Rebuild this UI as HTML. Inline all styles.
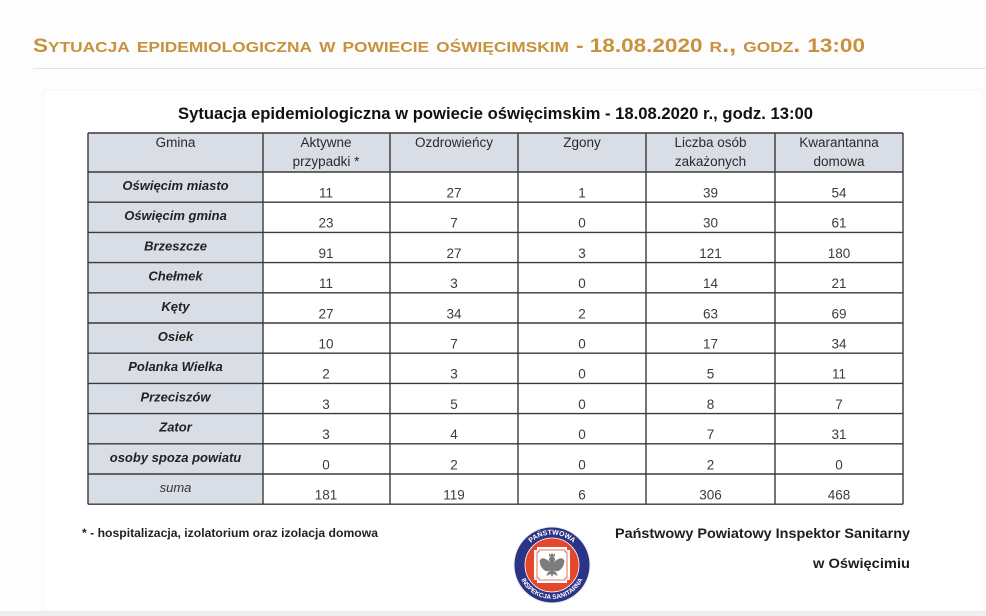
<!DOCTYPE html>
<html>
<head>
<meta charset="utf-8">
<style>
  html, body { margin: 0; padding: 0; background: #fdfdfd; }
  svg { display: block; }
</style>
</head>
<body>
<svg width="986" height="616" viewBox="0 0 986 616" xmlns="http://www.w3.org/2000/svg" font-family="'Liberation Sans', 'DejaVu Sans', sans-serif">
  <rect x="0" y="0" width="986" height="616" fill="#fdfdfd"/>
  <!-- heading -->
  <text x="33" y="52" font-size="22" font-weight="bold" fill="#c8923c" style="font-variant: small-caps;" textLength="832" lengthAdjust="spacingAndGlyphs"><tspan font-size="19.5">S</tspan>ytuacja epidemiologiczna w powiecie oświęcimskim <tspan font-size="19.5">- 18.08.2020</tspan> r., godz. <tspan font-size="19.5">13:00</tspan></text>
  <line x1="33" y1="68.5" x2="986" y2="68.5" stroke="#e2e2e2" stroke-width="1"/>

  <!-- inner image box -->
  <rect x="44" y="90" width="938" height="521" fill="#ffffff" stroke="#f5f5f5" stroke-width="1"/>
  <rect x="0" y="611" width="986" height="5" fill="#eeeeee"/>

  <!-- title -->
  <text x="178" y="119" font-size="17" font-weight="bold" fill="#111" textLength="635" lengthAdjust="spacingAndGlyphs">Sytuacja epidemiologiczna w powiecie oświęcimskim - 18.08.2020 r., godz. 13:00</text>

  <!-- table backgrounds -->
  <rect x="88" y="133" width="815" height="39" fill="#d8dde6"/>
  <rect x="88" y="172" width="175" height="332" fill="#d8dde6"/>

  <!-- grid -->
  <g stroke="#3a3a3a" stroke-width="1.4" fill="none">
    <line x1="88" y1="133" x2="903" y2="133"/>
    <line x1="88" y1="172" x2="903" y2="172"/>
    <line x1="88" y1="202.2" x2="903" y2="202.2"/>
    <line x1="88" y1="232.4" x2="903" y2="232.4"/>
    <line x1="88" y1="262.6" x2="903" y2="262.6"/>
    <line x1="88" y1="292.8" x2="903" y2="292.8"/>
    <line x1="88" y1="323" x2="903" y2="323"/>
    <line x1="88" y1="353.2" x2="903" y2="353.2"/>
    <line x1="88" y1="383.4" x2="903" y2="383.4"/>
    <line x1="88" y1="413.6" x2="903" y2="413.6"/>
    <line x1="88" y1="443.8" x2="903" y2="443.8"/>
    <line x1="88" y1="474" x2="903" y2="474"/>
    <line x1="88" y1="504.2" x2="903" y2="504.2"/>
    <line x1="88" y1="133" x2="88" y2="504.2"/>
    <line x1="263" y1="133" x2="263" y2="504.2"/>
    <line x1="390" y1="133" x2="390" y2="504.2"/>
    <line x1="518" y1="133" x2="518" y2="504.2"/>
    <line x1="646" y1="133" x2="646" y2="504.2"/>
    <line x1="775" y1="133" x2="775" y2="504.2"/>
    <line x1="903" y1="133" x2="903" y2="504.2"/>
  </g>

  <!-- header text -->
  <g font-size="13.5" fill="#2a2a2a" text-anchor="middle">
    <text x="175.5" y="147">Gmina</text>
    <text x="326" y="147">Aktywne</text>
    <text x="326" y="166">przypadki *</text>
    <text x="454" y="147">Ozdrowieńcy</text>
    <text x="582" y="147">Zgony</text>
    <text x="710.5" y="147">Liczba osób</text>
    <text x="710.5" y="166">zakażonych</text>
    <text x="839" y="147">Kwarantanna</text>
    <text x="839" y="166">domowa</text>
  </g>

  <!-- names -->
  <g font-size="13" font-weight="bold" font-style="italic" fill="#222" text-anchor="middle">
    <text x="175.5" y="190">Oświęcim miasto</text>
    <text x="175.5" y="220.2">Oświęcim gmina</text>
    <text x="175.5" y="250.4">Brzeszcze</text>
    <text x="175.5" y="280.6">Chełmek</text>
    <text x="175.5" y="310.8">Kęty</text>
    <text x="175.5" y="341">Osiek</text>
    <text x="175.5" y="371.2">Polanka  Wielka</text>
    <text x="175.5" y="401.4">Przeciszów</text>
    <text x="175.5" y="431.6">Zator</text>
    <text x="175.5" y="461.8">osoby spoza powiatu</text>
  </g>
  <text x="175.5" y="492" font-size="13" font-style="italic" fill="#333" text-anchor="middle">suma</text>

  <!-- numbers -->
  <g font-size="13.5" fill="#3c3c3c" text-anchor="middle">
    <text x="326" y="197.5">11</text><text x="454" y="197.5">27</text><text x="582" y="197.5">1</text><text x="710.5" y="197.5">39</text><text x="839" y="197.5">54</text>
    <text x="326" y="227.7">23</text><text x="454" y="227.7">7</text><text x="582" y="227.7">0</text><text x="710.5" y="227.7">30</text><text x="839" y="227.7">61</text>
    <text x="326" y="257.9">91</text><text x="454" y="257.9">27</text><text x="582" y="257.9">3</text><text x="710.5" y="257.9">121</text><text x="839" y="257.9">180</text>
    <text x="326" y="288.1">11</text><text x="454" y="288.1">3</text><text x="582" y="288.1">0</text><text x="710.5" y="288.1">14</text><text x="839" y="288.1">21</text>
    <text x="326" y="318.3">27</text><text x="454" y="318.3">34</text><text x="582" y="318.3">2</text><text x="710.5" y="318.3">63</text><text x="839" y="318.3">69</text>
    <text x="326" y="348.5">10</text><text x="454" y="348.5">7</text><text x="582" y="348.5">0</text><text x="710.5" y="348.5">17</text><text x="839" y="348.5">34</text>
    <text x="326" y="378.7">2</text><text x="454" y="378.7">3</text><text x="582" y="378.7">0</text><text x="710.5" y="378.7">5</text><text x="839" y="378.7">11</text>
    <text x="326" y="408.9">3</text><text x="454" y="408.9">5</text><text x="582" y="408.9">0</text><text x="710.5" y="408.9">8</text><text x="839" y="408.9">7</text>
    <text x="326" y="439.1">3</text><text x="454" y="439.1">4</text><text x="582" y="439.1">0</text><text x="710.5" y="439.1">7</text><text x="839" y="439.1">31</text>
    <text x="326" y="469.3">0</text><text x="454" y="469.3">2</text><text x="582" y="469.3">0</text><text x="710.5" y="469.3">2</text><text x="839" y="469.3">0</text>
    <text x="326" y="499.5">181</text><text x="454" y="499.5">119</text><text x="582" y="499.5">6</text><text x="710.5" y="499.5">306</text><text x="839" y="499.5">468</text>
  </g>

  <!-- footnote -->
  <text x="82" y="537" font-size="12" font-weight="bold" fill="#222" textLength="296" lengthAdjust="spacingAndGlyphs">* - hospitalizacja,  izolatorium oraz izolacja domowa</text>

  <!-- signature -->
  <text x="615" y="538" font-size="14" font-weight="bold" fill="#1e1e1e" textLength="295" lengthAdjust="spacingAndGlyphs">Państwowy Powiatowy Inspektor Sanitarny</text>
  <text x="813" y="568" font-size="14" font-weight="bold" fill="#1e1e1e" textLength="97" lengthAdjust="spacingAndGlyphs">w Oświęcimiu</text>

  <!-- logo -->
  <g transform="translate(552,565)">
    <circle r="38.5" fill="#e8e8f0"/>
    <circle r="37.5" fill="#2c3486"/>
    <circle r="27" fill="#e4472c"/>
    <circle r="27" fill="none" stroke="#ffffff" stroke-width="0.8"/>
    <path d="M-18,-15 L-15,-15 L-15,-18 L15,-18 L15,-15 L18,-15 L18,15 L15,15 L15,18 L-15,18 L-15,15 L-18,15 Z" fill="#ffffff"/>
    <path d="M-15,-13 L-13,-13 L-13,-15 L13,-15 L13,-13 L15,-13 L15,13 L13,13 L13,15 L-13,15 L-13,13 L-15,13 Z" fill="none" stroke="#e4472c" stroke-width="0.8"/>
    <!-- eagle -->
    <g fill="#7d7d7d">
      <path d="M-3,-12 L-1.5,-10 L0,-12 L1.5,-10 L3,-12 L3,-8.5 L-3,-8.5 Z"/>
      <ellipse cx="0" cy="-5.5" rx="3" ry="3"/>
      <path d="M-2,-3 Q-10,-10 -12.5,-4 Q-11.5,2 -9,4 Q-6,7 -3,6 L-2,2 Z"/>
      <path d="M2,-3 Q10,-10 12.5,-4 Q11.5,2 9,4 Q6,7 3,6 L2,2 Z"/>
      <ellipse cx="0" cy="2" rx="3.6" ry="5.5"/>
      <path d="M-3.5,6.5 L-6,11 L-1.5,9 L0,12 L1.5,9 L6,11 L3.5,6.5 Z"/>
    </g>
    <defs>
      <path id="arcTop" d="M-30.5,0 A30.5,30.5 0 0 1 30.5,0"/>
      <path id="arcBot" d="M-34,0 A34,34 0 0 0 34,0"/>
    </defs>
    <text font-size="7" font-weight="bold" fill="#ffffff" text-anchor="middle"><textPath href="#arcTop" startOffset="50%">PAŃSTWOWA</textPath></text>
    <text font-size="6.5" font-weight="bold" fill="#ffffff" text-anchor="middle"><textPath href="#arcBot" startOffset="50%">INSPEKCJA SANITARNA</textPath></text>
  </g>
</svg>
</body>
</html>
